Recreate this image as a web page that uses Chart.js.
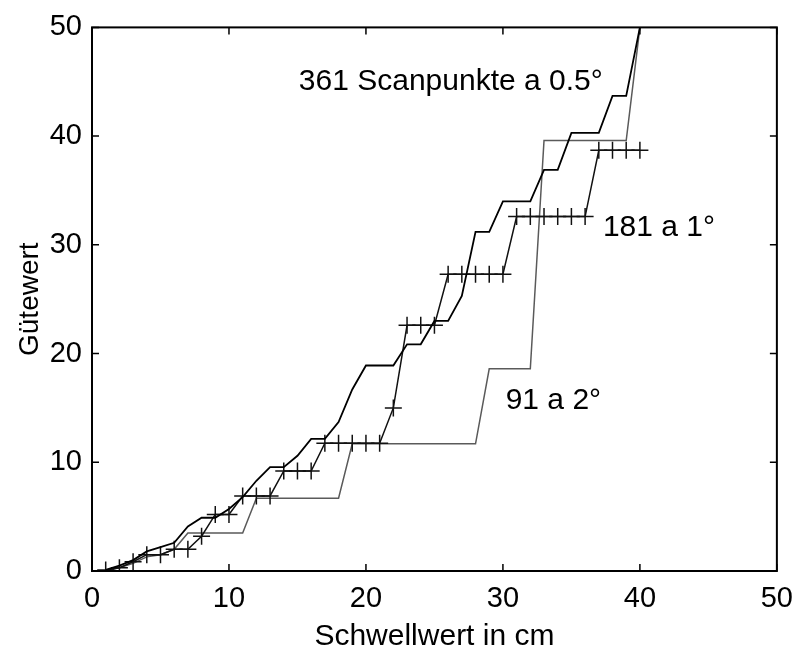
<!DOCTYPE html>
<html><head><meta charset="utf-8">
<script src="https://cdn.jsdelivr.net/npm/chart.js@4/dist/chart.umd.min.js"></script>
<style>html,body{margin:0;padding:0;background:#fff;overflow:hidden}#c{display:block}</style>
</head><body><canvas id="c" width="804" height="648" style="width:804px;height:648px"></canvas>
<script>
// ---- data ----
const x361 = [1,2,3,4,5,6,7,8,9,10,11,12,13,14,15,16,17,18,19,20,21,22,23,24,25,26,27,28,29,30,31,32,33,34,35,36,37,38,39,40];
const y361 = [0.1,0.5,1.0,1.8,2.2,2.6,4.1,4.9,4.9,5.7,6.8,8.3,9.55,9.55,10.6,12.15,12.15,13.7,16.7,18.9,18.9,18.9,20.85,20.85,23.0,23.0,25.3,31.2,31.2,34.0,34.0,34.0,36.9,36.9,40.3,40.3,40.3,43.7,43.7,50];
const x181 = [1,2,3,4,5,6,7,8,9,10,11,12,13,14,15,16,17,18,19,20,21,22,23,24,25,26,27,28,29,30,31,32,33,34,35,36,37,38,39,40];
const y181 = [0.1,0.3,0.85,1.5,1.5,2.0,2.0,3.2,5.2,5.2,6.9,6.9,6.9,9.2,9.2,9.2,11.75,11.75,11.75,11.75,11.75,15.0,22.6,22.6,22.6,27.3,27.3,27.3,27.3,27.3,32.6,32.6,32.6,32.6,32.6,32.6,38.7,38.7,38.7,38.7];
const x91 = [1,2,3,4,5,6,7,8,9,10,11,12,13,14,15,16,17,18,19,20,21,22,23,24,25,26,27,28,29,30,31,32,33,34,35,36,37,38,39,40];
const y91 = [0,0.3,0.7,1.3,1.5,2.0,3.5,3.5,3.5,3.5,3.5,6.7,6.7,6.7,6.7,6.7,6.7,6.7,11.7,11.7,11.7,11.7,11.7,11.7,11.7,11.7,11.7,11.7,18.6,18.6,18.6,18.6,39.6,39.6,39.6,39.6,39.6,39.6,39.6,50];
const xTicks = [0,10,20,30,40,50];
const yTicks = [0,10,20,30,40,50];
const seriesNames = ["361 Scanpunkte a 0.5°","181 a 1°","91 a 2°"];
const xTitle = "Schwellwert in cm";
const yTitle = "Gütewert";
// annotation anchor points (data units)
const notePos = [[15.1,45.0],[37.3,31.6],[30.2,15.7]];

const FONT = "'Liberation Sans', Arial, sans-serif";
const pts = (xs, ys) => xs.map((v,i)=>({x:v,y:ys[i]}));

const framePlugin = {
  id:'frame',
  afterDraw(chart){
    const {ctx, chartArea:a, scales:{x,y}} = chart;
    ctx.save();
    ctx.strokeStyle='#000';
    ctx.lineWidth=2;
    ctx.strokeRect(a.left,a.top,a.right-a.left,a.bottom-a.top);
    ctx.lineWidth=1.5;
    ctx.beginPath();
    const L=7;
    xTicks.forEach(v=>{const p=x.getPixelForValue(v);
      ctx.moveTo(p,a.bottom);ctx.lineTo(p,a.bottom-L);
      ctx.moveTo(p,a.top);ctx.lineTo(p,a.top+L);});
    yTicks.forEach(v=>{const p=y.getPixelForValue(v);
      ctx.moveTo(a.left,p);ctx.lineTo(a.left+L,p);
      ctx.moveTo(a.right,p);ctx.lineTo(a.right-L,p);});
    ctx.stroke();
    ctx.fillStyle='#000';
    ctx.font='30px '+FONT;
    ctx.textBaseline='middle';
    ctx.textAlign='left';
    seriesNames.forEach((t,i)=>{
      ctx.fillText(t, x.getPixelForValue(notePos[i][0]), y.getPixelForValue(notePos[i][1]));
    });
    ctx.restore();
  }
};

new Chart(document.getElementById('c'), {
  type:'scatter',
  data:{datasets:[
    {label:seriesNames[0], data:pts(x361,y361), showLine:true, borderColor:'#000', borderWidth:1.8, pointRadius:0, fill:false},
    {label:seriesNames[1], data:pts(x181,y181), showLine:true, borderColor:'#111', borderWidth:1.5, pointStyle:'cross', pointRadius:8.5, pointBorderWidth:1.5, pointBorderColor:'#111', pointHoverRadius:8.5, fill:false},
    {label:seriesNames[2], data:pts(x91,y91), showLine:true, borderColor:'#5a5a5a', borderWidth:1.5, pointRadius:0, fill:false}
  ]},
  options:{
    responsive:false, maintainAspectRatio:false, animation:false, devicePixelRatio:1,
    layout:{padding:{top:25,right:24,left:0,bottom:0}},
    plugins:{legend:{display:false},tooltip:{enabled:false}},
    scales:{
      x:{type:'linear',min:0,max:50,
        afterBuildTicks:s=>{s.ticks=xTicks.map(v=>({value:v}));},
        afterFit:s=>{s.height=77;},
        grid:{display:false,drawTicks:false}, border:{display:false},
        ticks:{color:'#000',font:{family:FONT,size:29},padding:11,maxRotation:0},
        title:{display:true,text:xTitle,color:'#000',font:{family:FONT,size:30,lineHeight:1},padding:{top:0,bottom:-4}}
      },
      y:{type:'linear',min:0,max:50,
        afterBuildTicks:s=>{s.ticks=yTicks.map(v=>({value:v}));},
        afterFit:s=>{s.width=92;},
        grid:{display:false,drawTicks:false}, border:{display:false},
        ticks:{color:'#000',font:{family:FONT,size:29},padding:10},
        title:{display:true,text:yTitle,color:'#000',font:{family:FONT,size:28,lineHeight:1},padding:{top:16,bottom:0}}
      }
    }
  },
  plugins:[framePlugin]
});
</script>
</body></html>
